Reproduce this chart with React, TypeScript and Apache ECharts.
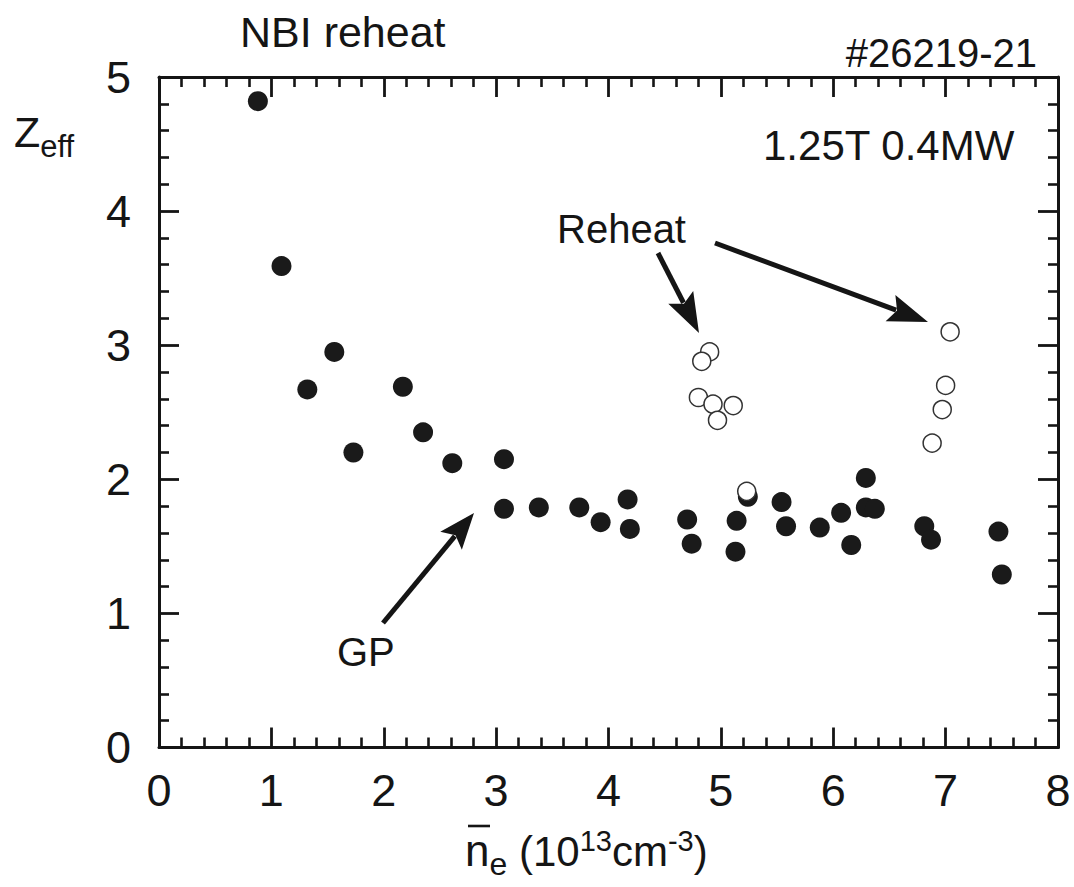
import React, { useEffect, useRef } from "react";
import * as echarts from "echarts";

// Filled circles (GP / normal)
const filledX = [0.88, 1.09, 1.32, 1.56, 1.73, 2.17, 2.35, 2.61, 3.07, 3.07, 3.38, 3.74, 3.93, 4.17, 4.19, 4.70, 4.74, 5.14, 5.13, 5.24, 5.54, 5.58, 5.88, 6.07, 6.16, 6.29, 6.29, 6.37, 6.81, 6.87, 7.47, 7.50];
const filledY = [4.82, 3.59, 2.67, 2.95, 2.20, 2.69, 2.35, 2.12, 2.15, 1.78, 1.79, 1.79, 1.68, 1.85, 1.63, 1.70, 1.52, 1.69, 1.46, 1.87, 1.83, 1.65, 1.64, 1.75, 1.51, 2.01, 1.79, 1.78, 1.65, 1.55, 1.61, 1.29];
// Open circles (Reheat)
const openX = [4.90, 4.83, 4.80, 4.93, 5.11, 4.97, 5.23, 7.04, 7.00, 6.97, 6.88];
const openY = [2.95, 2.88, 2.61, 2.56, 2.55, 2.44, 1.91, 3.10, 2.70, 2.52, 2.27];

const xTicks = [0, 1, 2, 3, 4, 5, 6, 7, 8];
const yTicks = [0, 1, 2, 3, 4, 5];

const FONT = "'Liberation Sans', Arial, Helvetica, sans-serif";
const INK = "#151515";

function measure(text: string, size: number): number {
  const c = document.createElement("canvas").getContext("2d");
  if (!c) return text.length * size * 0.55;
  c.font = `${size}px ${FONT}`;
  return c.measureText(text).width;
}

type Piece = { t: string; size: number; dy: number };

function seqText(left: number, baseline: number, pieces: Piece[]) {
  const els: any[] = [];
  let x = left;
  for (const p of pieces) {
    els.push({
      type: "text",
      x,
      y: baseline + p.dy - 0.35 * p.size,
      style: {
        text: p.t,
        fontSize: p.size,
        fontFamily: FONT,
        fill: INK,
        align: "left",
        verticalAlign: "middle",
      },
      silent: true,
    });
    x += measure(p.t, p.size);
  }
  return els;
}

function arrow(x1: number, y1: number, x2: number, y2: number, L = 40, W = 28) {
  const dx = x2 - x1;
  const dy = y2 - y1;
  const len = Math.sqrt(dx * dx + dy * dy);
  const ux = dx / len;
  const uy = dy / len;
  const bx = x2 - ux * L;
  const by = y2 - uy * L;
  const nx = -uy;
  const ny = ux;
  return [
    {
      type: "line",
      shape: { x1, y1, x2: bx + ux * 6, y2: by + uy * 6 },
      style: { stroke: INK, lineWidth: 5 },
      silent: true,
    },
    {
      type: "polygon",
      shape: {
        points: [
          [x2, y2],
          [bx + (nx * W) / 2, by + (ny * W) / 2],
          [bx + ux * 7, by + uy * 7],
          [bx - (nx * W) / 2, by - (ny * W) / 2],
        ],
      },
      style: { fill: INK },
      silent: true,
    },
  ];
}

function plainText(x: number, baseline: number, text: string, size: number, align = "left", family = FONT) {
  return {
    type: "text",
    x,
    y: baseline - 0.35 * size,
    style: { text, fontSize: size, fontFamily: family, fill: INK, align, verticalAlign: "middle" },
    silent: true,
  };
}

export default function App() {
  const ref = useRef<HTMLDivElement>(null);
  useEffect(() => {
    document.body.style.margin = "0";
    if (!ref.current) return;
    const chart = echarts.init(ref.current, undefined, { renderer: "svg" });

    const axisCommon = (isX: boolean, showLabels: boolean, position: string) => ({
      type: "value",
      min: isX ? xTicks[0] : yTicks[0],
      max: isX ? xTicks[xTicks.length - 1] : yTicks[yTicks.length - 1],
      interval: 1,
      position,
      axisLine: { show: true, onZero: false, lineStyle: { color: INK, width: 3 } },
      axisTick: { show: true, inside: true, length: 20, lineStyle: { color: INK, width: 2.8 } },
      minorTick: { show: true, splitNumber: 5, length: 10, lineStyle: { color: INK, width: 2.6 } },
      splitLine: { show: false },
      minorSplitLine: { show: false },
      axisLabel: {
        show: showLabels,
        fontSize: 45,
        fontFamily: FONT,
        color: INK,
        margin: isX ? 20 : 28,
      },
    });

    const xLabelEls = [
      ...seqText(465, 866, [
        { t: "n", size: 44, dy: 0 },
        { t: "e", size: 32, dy: 9 },
        { t: " (10", size: 42, dy: 0 },
        { t: "13", size: 29, dy: -15 },
        { t: "cm", size: 42, dy: 0 },
        { t: "-3", size: 29, dy: -15 },
        { t: ")", size: 42, dy: 0 },
      ]),
      {
        type: "line",
        shape: { x1: 468, y1: 826, x2: 490, y2: 826 },
        style: { stroke: INK, lineWidth: 2.6 },
        silent: true,
      },
    ];

    const zeffEls = seqText(14, 147, [
      { t: "Z", size: 43, dy: 0 },
      { t: "eff", size: 31, dy: 10 },
    ]);

    const option: any = {
      animation: false,
      backgroundColor: "#ffffff",
      grid: { left: 159, right: 16, top: 77, bottom: 139.5, containLabel: false },
      xAxis: [axisCommon(true, true, "bottom"), axisCommon(true, false, "top")],
      yAxis: [axisCommon(false, true, "left"), axisCommon(false, false, "right")],
      series: [
        {
          name: "GP",
          type: "scatter",
          xAxisIndex: 0,
          yAxisIndex: 0,
          symbol: "circle",
          symbolSize: 20,
          itemStyle: { color: "#1a1a1a", opacity: 1 },
          data: filledX.map((x, i) => [x, filledY[i]]),
          z: 2,
        },
        {
          name: "Reheat",
          type: "scatter",
          xAxisIndex: 0,
          yAxisIndex: 0,
          symbol: "circle",
          symbolSize: 18,
          itemStyle: { color: "#ffffff", borderColor: "#333", borderWidth: 1.5, opacity: 1 },
          data: openX.map((x, i) => [x, openY[i]]),
          z: 3,
        },
      ],
      graphic: [
        plainText(240, 47, "NBI reheat", 43),
        plainText(1037, 67, "#26219-21", 40, "right"),
        plainText(763, 160, "1.25T 0.4MW", 42),
        plainText(557, 243, "Reheat", 40),
        plainText(337, 666, "GP", 40),
        ...arrow(658, 253, 699, 333),
        ...arrow(715, 243, 928, 322),
        ...arrow(383, 623, 474, 513, 36, 28),
        ...xLabelEls,
        ...zeffEls,
      ],
    };
    chart.setOption(option);
    return () => chart.dispose();
  }, []);
  return <div ref={ref} style={{ width: 1074, height: 887 }} />;
}
